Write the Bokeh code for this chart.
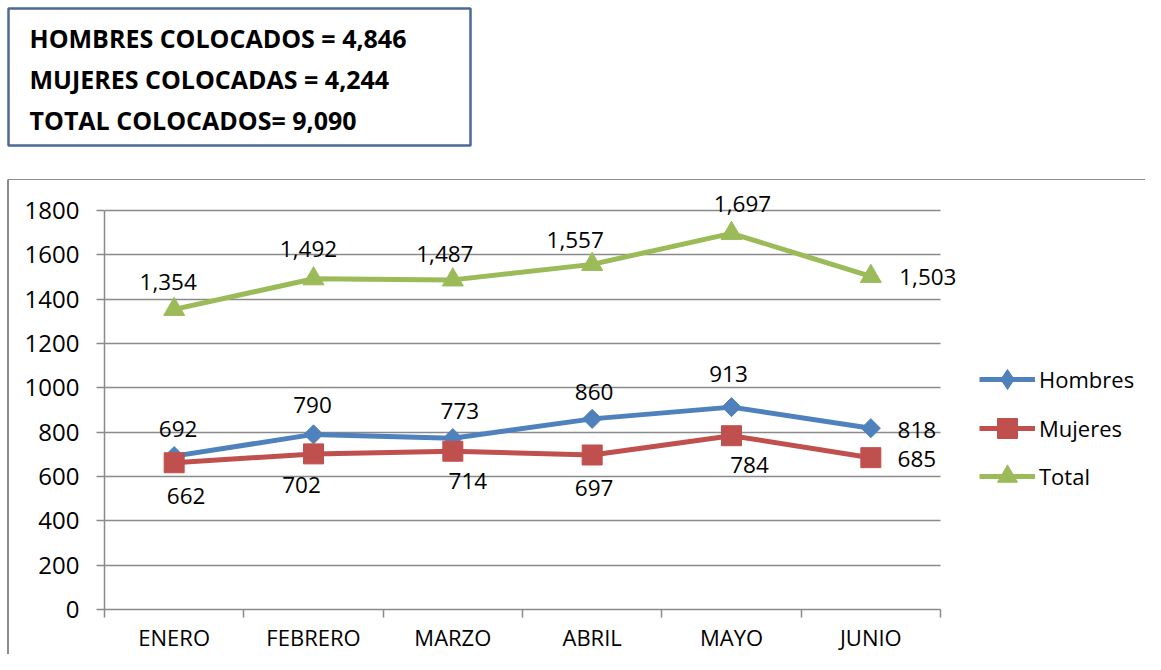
from math import pi
from bokeh.plotting import figure
from bokeh.models import Range1d, FixedTicker, Legend, LegendItem, Grid
from bokeh.embed import file_html
from bokeh.resources import INLINE
from bokeh.core.properties import value

# ---- data ----
months = ["ENERO", "FEBRERO", "MARZO", "ABRIL", "MAYO", "JUNIO"]
hombres = [692, 790, 773, 860, 913, 818]
mujeres = [662, 702, 714, 697, 784, 685]
total = [1354, 1492, 1487, 1557, 1697, 1503]
y_ticks = [0, 200, 400, 600, 800, 1000, 1200, 1400, 1600, 1800]
summary_lines = ["HOMBRES COLOCADOS = 4,846",
                 "MUJERES COLOCADAS = 4,244",
                 "TOTAL COLOCADOS= 9,090"]

# ---- style / layout ----
FONT = "Open Sans"
GRID = "#8a8a8a"
BORDER = "#8c8c8c"
W, H = 1145, 654
TOP_H = 180                 # height of the summary strip
CH = H - TOP_H              # chart figure height
PLOT_L, PLOT_R = 104, 940   # plot area in page pixels
PLOT_T, PLOT_B = 210, 609
LEFT_MARGIN, BORDER_W = 7, 2
CANVAS_X0 = LEFT_MARGIN + BORDER_W

# ---------------- summary box figure ----------------
top = figure(width=W, height=TOP_H, output_backend="svg", toolbar_location=None,
             x_range=Range1d(0, W), y_range=Range1d(TOP_H, 0),
             x_axis_type=None, y_axis_type=None,
             min_border=0, min_border_left=0, min_border_right=0,
             min_border_top=0, min_border_bottom=0)
top.outline_line_color = None
top.xgrid.visible = False
top.ygrid.visible = False
top.background_fill_color = "white"
top.border_fill_color = "white"
top.quad(left=[8], right=[470], top=[8], bottom=[145], fill_color=None,
         line_color="#4B6A98", line_width=2.5)
top.text(x=[29] * len(summary_lines), y=[37 + 41 * i for i in range(len(summary_lines))],
         text=summary_lines, text_baseline="middle", text_align="left",
         text_font=value(FONT), text_font_size="25px", text_font_style="bold",
         text_color="black")
# top edge of the chart border
top.segment(x0=[LEFT_MARGIN], y0=[TOP_H - 0.75], x1=[W], y1=[TOP_H - 0.75],
            line_color=BORDER, line_width=1.5)

# ---------------- chart figure ----------------
px_per_x = (PLOT_R - PLOT_L) / len(months)
px_per_y = (PLOT_B - PLOT_T) / 1800
x_lo = -0.5
x_hi = len(months) - 0.5 + (W - PLOT_R) / px_per_x
y_hi = 1800 + (PLOT_T - TOP_H) / px_per_y

p = figure(width=W - CANVAS_X0, height=CH, output_backend="svg", toolbar_location=None,
           x_range=Range1d(x_lo, x_hi), y_range=Range1d(0, y_hi),
           min_border_left=PLOT_L - CANVAS_X0, min_border_right=0, min_border_top=0,
           min_border_bottom=CH - (PLOT_B - TOP_H))
p.styles = {"margin-left": f"{LEFT_MARGIN}px",
            "border-left": f"{BORDER_W}px solid {BORDER}"}
p.outline_line_color = None
p.background_fill_color = "white"
p.border_fill_color = "white"

xs = list(range(len(months)))

xa = p.xaxis[0]
xa.bounds = (-0.5, len(months) - 0.5)
xa.ticker = FixedTicker(ticks=xs, minor_ticks=[i - 0.5 for i in range(len(months) + 1)])
xa.major_label_overrides = {i: m for i, m in enumerate(months)}
xa.major_tick_out = 0
xa.major_tick_in = 0
xa.minor_tick_out = 8
xa.minor_tick_in = 0
xa.minor_tick_line_color = GRID
xa.minor_tick_line_width = 1.5
xa.axis_line_color = GRID
xa.axis_line_width = 1.5
xa.major_label_standoff = 4
xa.major_label_text_font = FONT
xa.major_label_text_font_size = "22px"
xa.major_label_text_color = "black"

ya = p.yaxis[0]
ya.bounds = (0, 1800)
ya.ticker = FixedTicker(ticks=y_ticks)
ya.major_tick_out = 8
ya.major_tick_in = 0
ya.minor_tick_out = 0
ya.minor_tick_in = 0
ya.major_tick_line_color = GRID
ya.major_tick_line_width = 1.5
ya.axis_line_color = GRID
ya.axis_line_width = 1.5
ya.major_label_standoff = 17
ya.major_label_text_font = FONT
ya.major_label_text_font_size = "24px"
ya.major_label_text_color = "black"

p.xgrid.visible = False
if "cross_bounds" in Grid.properties():
    p.ygrid.ticker = FixedTicker(ticks=y_ticks[1:])
    p.ygrid.cross_bounds = (-0.5, len(months) - 0.5)
    p.ygrid.grid_line_color = GRID
    p.ygrid.grid_line_width = 1.5
else:
    p.ygrid.visible = False
    p.segment(x0=[-0.5] * (len(y_ticks) - 1), y0=y_ticks[1:],
              x1=[len(months) - 0.5] * (len(y_ticks) - 1), y1=y_ticks[1:],
              line_color=GRID, line_width=1.5)

# name, values, colour, marker, size, angle, legend marker, label dx, label dy, legend glyph height
series = [
    ("Hombres", hombres, "#4F81BD", "square", 13.5, pi / 4, "diamond",
     [4, -1, 7, 2, -3, 46], [-27, -29, -27, -27, -33, 2], 50),
    ("Mujeres", mujeres, "#C0504D", "square", 20, 0, None,
     [12, -12, 15, 2, 18, 46], [33, 31, 30, 33, 29, 1], 50),
    ("Total", total, "#9BBB59", "triangle", 21, 0, None,
     [-6, -5, -8, -17, 11, 57], [-27, -30, -26, -24, -29, 1], 50),
]
legend_centers = [379, 428, 476]   # page y of each legend entry

for k, (name, vals, color, marker, size, angle, lmarker, dx, dy, gh) in enumerate(series):
    lr = p.line(xs, vals, line_color=color, line_width=5)
    sr = p.scatter(xs, vals, marker=marker, size=size, angle=angle,
                   fill_color=color, line_color=color)
    key = sr
    if lmarker is not None:
        # legend-only key shape (drawn in the legend, hidden in the plot)
        key = p.scatter(xs, vals, marker=lmarker, size=size,
                        fill_color=color, line_color=color, visible=False)
    lg = Legend(items=[LegendItem(label=name, renderers=[lr, key])],
                location=(979 - PLOT_L, PLOT_B - (legend_centers[k] + gh / 2)),
                border_line_color=None, background_fill_alpha=0,
                glyph_width=56, glyph_height=gh, label_height=gh,
                label_standoff=4, spacing=0,
                padding=0, margin=0, label_text_font=FONT,
                label_text_font_size="22px", label_text_color="black")
    p.add_layout(lg)

for name, vals, color, marker, size, angle, lmarker, dx, dy, gh in series:
    p.text(x=xs, y=vals, text=[f"{v:,}" for v in vals], x_offset=dx, y_offset=dy,
           text_align="center", text_baseline="middle", text_font=value(FONT),
           text_font_size="22.5px", text_color="black")

open("out.html", "w").write(file_html([top, p], INLINE))
